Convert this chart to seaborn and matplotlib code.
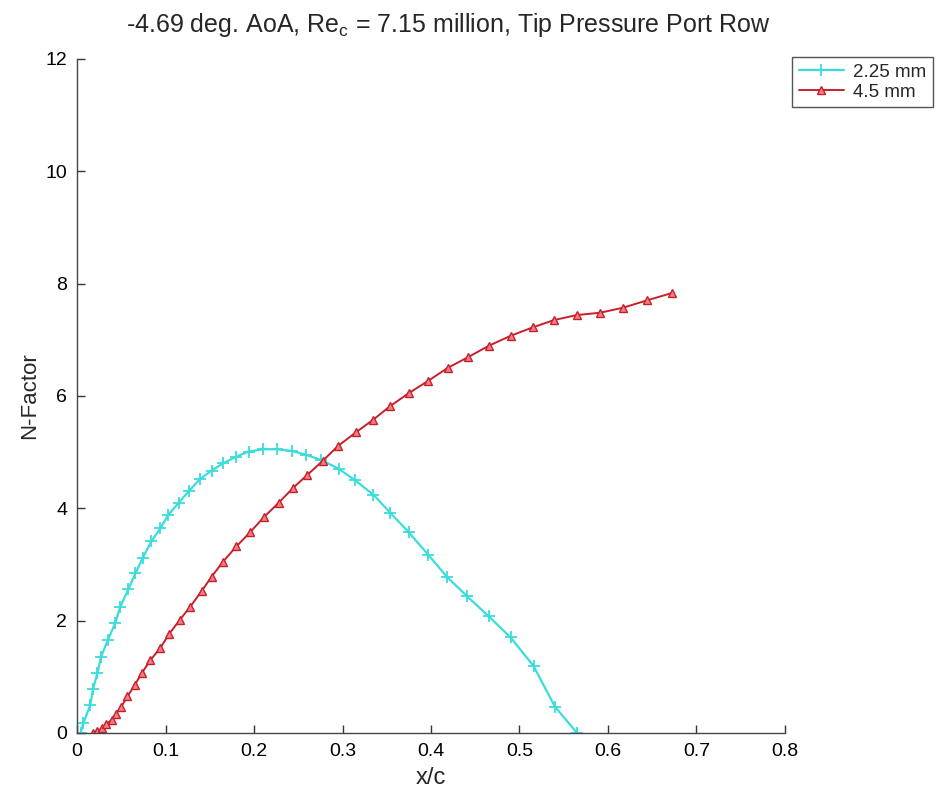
import matplotlib
matplotlib.use("Agg")
import matplotlib.pyplot as plt
import seaborn as sns
from matplotlib.ticker import FixedLocator, FuncFormatter

# 2.25 mm roughness: N-factor along the chord
xc_225 = [0.004, 0.007, 0.015, 0.018, 0.023, 0.027, 0.035, 0.043, 0.049, 0.058,
          0.066, 0.074, 0.084, 0.094, 0.103, 0.115, 0.126, 0.139, 0.152, 0.165,
          0.180, 0.194, 0.210, 0.226, 0.243, 0.259, 0.276, 0.296, 0.314, 0.335,
          0.354, 0.375, 0.397, 0.418, 0.441, 0.465, 0.490, 0.516, 0.540, 0.565]
n_225 = [0.00, 0.17, 0.50, 0.78, 1.06, 1.35, 1.66, 1.95, 2.25, 2.56,
         2.84, 3.11, 3.41, 3.64, 3.88, 4.10, 4.30, 4.52, 4.67, 4.80,
         4.92, 5.01, 5.05, 5.05, 5.02, 4.95, 4.86, 4.70, 4.50, 4.24,
         3.92, 3.57, 3.17, 2.78, 2.43, 2.08, 1.70, 1.19, 0.47, 0.00]

# 4.5 mm roughness: N-factor along the chord
xc_45 = [0.018, 0.023, 0.028, 0.033, 0.039, 0.044, 0.050, 0.057, 0.065, 0.073,
         0.083, 0.094, 0.104, 0.116, 0.128, 0.141, 0.152, 0.165, 0.180, 0.196,
         0.211, 0.228, 0.244, 0.260, 0.278, 0.295, 0.315, 0.335, 0.354, 0.375,
         0.397, 0.419, 0.442, 0.465, 0.490, 0.515, 0.539, 0.565, 0.591, 0.617,
         0.644, 0.672]
n_45 = [0.00, 0.04, 0.08, 0.16, 0.23, 0.34, 0.47, 0.65, 0.85, 1.06,
        1.30, 1.51, 1.76, 2.01, 2.25, 2.53, 2.78, 3.05, 3.32, 3.58,
        3.84, 4.10, 4.36, 4.59, 4.85, 5.11, 5.35, 5.58, 5.82, 6.05,
        6.27, 6.50, 6.69, 6.89, 7.07, 7.22, 7.35, 7.44, 7.48, 7.57,
        7.70, 7.83]

series_labels = ["2.25 mm", "4.5 mm"]
x_ticks = [0, 0.1, 0.2, 0.3, 0.4, 0.5, 0.6, 0.7, 0.8]
y_ticks = [0, 2, 4, 6, 8, 10, 12]

sns.set_style("ticks")
plt.rcParams["font.family"] = ["Liberation Sans", "DejaVu Sans"]
plt.rcParams["mathtext.fontset"] = "custom"
plt.rcParams["mathtext.rm"] = "Liberation Sans"
plt.rcParams["mathtext.it"] = "Liberation Sans"

fig = plt.figure(figsize=(9.43, 7.95), dpi=100)
ax = fig.add_axes([0.0817, 0.078, 0.7507, 0.848])

cyan = "#3adcdc"
red = "#c8202a"

sns.lineplot(x=xc_225, y=n_225, ax=ax, color=cyan, linewidth=1.6,
             marker="+", markersize=8, markeredgewidth=1.3,
             markeredgecolor=cyan, label=series_labels[0],
             estimator=None, sort=False)
sns.lineplot(x=xc_45, y=n_45, ax=ax, color=red, linewidth=1.4,
             marker="^", markersize=6, markeredgewidth=1.0,
             markeredgecolor=red, markerfacecolor="#ef7f86",
             label=series_labels[1], estimator=None, sort=False)

ax.set_xlim(0, 0.8)
ax.set_ylim(0, 12)
ax.xaxis.set_major_locator(FixedLocator(x_ticks))
ax.yaxis.set_major_locator(FixedLocator(y_ticks))
ax.xaxis.set_major_formatter(FuncFormatter(lambda v, p: f"{v:g}"))
ax.yaxis.set_major_formatter(FuncFormatter(lambda v, p: f"{v:g}"))
ax.tick_params(direction="in", length=6, width=1, colors="#333333",
               labelcolor="black", labelsize=14)
ax.tick_params(axis="x", pad=7)
ax.tick_params(axis="y", pad=7)

for side in ("top", "right"):
    ax.spines[side].set_visible(False)
for side in ("left", "bottom"):
    ax.spines[side].set_color("#444444")
    ax.spines[side].set_linewidth(1)

ax.set_xlabel("x/c", fontsize=17, labelpad=5)
ax.set_ylabel("N-Factor", fontsize=16, labelpad=4)
ax.set_title("-4.69 deg. AoA, Re$_\\mathrm{c}$ = 7.15 million, Tip Pressure Port Row",
             fontsize=18, pad=19, x=0.525)

leg = ax.legend(loc="upper left", bbox_to_anchor=(0.84, 0.928),
                bbox_transform=fig.transFigure, borderaxespad=0, fontsize=13.5,
                frameon=True, fancybox=False, framealpha=1,
                edgecolor="#555555", handlelength=2.4, borderpad=0.35,
                labelspacing=0.15, handletextpad=0.5)
leg.get_frame().set_linewidth(1)

fig.savefig("out.png", dpi=100, facecolor="white")
